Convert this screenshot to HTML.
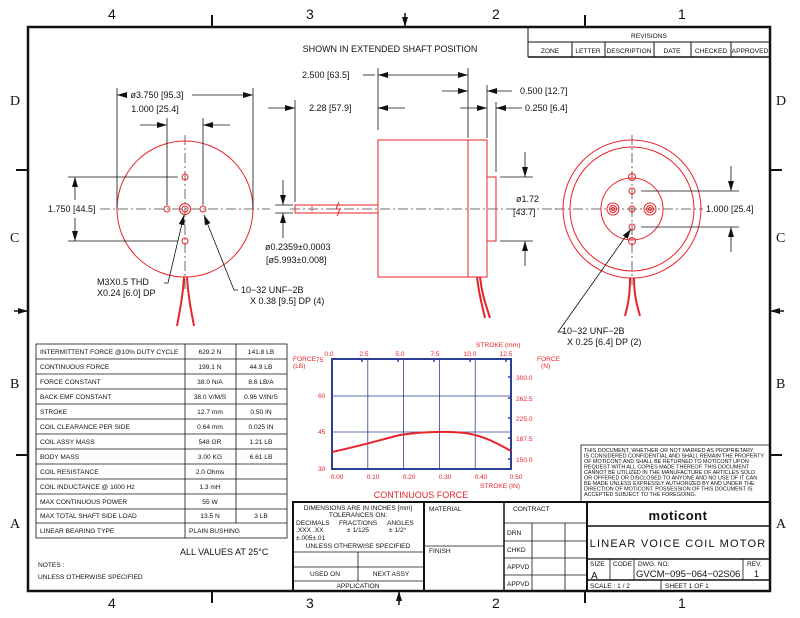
<!DOCTYPE html>
<html><head><meta charset="utf-8"><style>
html,body{margin:0;padding:0;background:#fff}
svg{display:block}
text{font-family:"Liberation Sans",sans-serif;fill:#111}
.s{font-size:6.6px}
.m{font-size:9px}
.r{fill:#e8232a}
</style></head><body>
<svg width="800" height="618" viewBox="0 0 800 618" xmlns="http://www.w3.org/2000/svg">
<defs>
<marker id="a" viewBox="0 0 10 6" refX="10" refY="3" markerWidth="10" markerHeight="6" orient="auto" markerUnits="userSpaceOnUse"><path d="M0,0L10,3L0,6z" fill="#111"/></marker>
</defs>
<!-- frame -->
<rect x="28" y="27" width="742" height="564" fill="none" stroke="#111" stroke-width="2.5"/>
<g stroke="#111" stroke-width="2">
<line x1="212" y1="15" x2="212" y2="27"/><line x1="585" y1="15" x2="585" y2="27"/>
<line x1="212" y1="591" x2="212" y2="603"/><line x1="585" y1="591" x2="585" y2="603"/>
<line x1="16" y1="170" x2="28" y2="170"/><line x1="16" y1="455" x2="28" y2="455"/>
<line x1="770" y1="170" x2="782" y2="170"/><line x1="770" y1="455" x2="782" y2="455"/>
</g>
<line x1="405" y1="13" x2="405" y2="27" stroke="#111" stroke-width="1.5" marker-end="url(#a)"/>
<line x1="399" y1="605" x2="399" y2="591" stroke="#111" stroke-width="1.5" marker-end="url(#a)"/>
<line x1="14" y1="311" x2="28" y2="311" stroke="#111" stroke-width="1.5" marker-end="url(#a)"/>
<line x1="784" y1="311" x2="770" y2="311" stroke="#111" stroke-width="1.5" marker-end="url(#a)"/>
<g>
<text x="108" y="19" style="font-size:14px">4</text><text x="306" y="19" style="font-size:14px">3</text><text x="492" y="19" style="font-size:14px">2</text><text x="678" y="19" style="font-size:14px">1</text>
<text x="108" y="608" style="font-size:14px">4</text><text x="306" y="608" style="font-size:14px">3</text><text x="492" y="608" style="font-size:14px">2</text><text x="678" y="608" style="font-size:14px">1</text>
</g>
<g>
<text x="10" y="105" style="font-family:'Liberation Serif';font-size:14px">D</text><text x="10" y="242" style="font-family:'Liberation Serif';font-size:14px">C</text><text x="10" y="388" style="font-family:'Liberation Serif';font-size:14px">B</text><text x="10" y="528" style="font-family:'Liberation Serif';font-size:14px">A</text>
<text x="776" y="105" style="font-family:'Liberation Serif';font-size:14px">D</text><text x="776" y="242" style="font-family:'Liberation Serif';font-size:14px">C</text><text x="776" y="388" style="font-family:'Liberation Serif';font-size:14px">B</text><text x="776" y="528" style="font-family:'Liberation Serif';font-size:14px">A</text>
</g>
<!-- revisions -->
<g stroke="#111" stroke-width="1" fill="none">
<line x1="528" y1="27" x2="528" y2="57"/><line x1="528" y1="42" x2="770" y2="42"/><line x1="528" y1="57" x2="770" y2="57" stroke-width="1.5"/>
<line x1="572" y1="42" x2="572" y2="57"/><line x1="605" y1="42" x2="605" y2="57"/><line x1="654" y1="42" x2="654" y2="57"/><line x1="691" y1="42" x2="691" y2="57"/><line x1="731" y1="42" x2="731" y2="57"/>
</g>
<g text-anchor="middle">
<text class="s" x="649" y="38" text-anchor="middle">REVISIONS</text><text class="s" x="550" y="53" text-anchor="middle">ZONE</text><text class="s" x="588" y="53" text-anchor="middle">LETTER</text><text class="s" x="629" y="53" text-anchor="middle">DESCRIPTION</text><text class="s" x="672" y="53" text-anchor="middle">DATE</text><text class="s" x="711" y="53" text-anchor="middle">CHECKED</text><text class="s" x="750" y="53" text-anchor="middle">APPROVED</text>
</g>
<text class="m" x="390" y="52" text-anchor="middle">SHOWN IN EXTENDED SHAFT POSITION</text>

<!-- front view left -->
<g stroke="#444" stroke-width="0.8" fill="none" stroke-dasharray="10,3,2,3">
<line x1="100" y1="209" x2="270" y2="209"/><line x1="185" y1="135" x2="185" y2="290"/>
</g>
<g stroke="#e8232a" fill="none" stroke-width="1">
<circle cx="185" cy="209" r="68"/>
<circle cx="185" cy="177" r="3"/><circle cx="185" cy="241" r="3"/><circle cx="167" cy="209" r="3"/><circle cx="203" cy="209" r="3"/>
<circle cx="185" cy="209" r="5.5"/><circle cx="185" cy="209" r="3"/>
<path d="M184,277 C183,295 180,310 177,326" stroke-width="2"/><path d="M187,277 C188,295 191,310 194,326" stroke-width="2"/>
</g>
<g stroke="#111" stroke-width="0.8" fill="none">
<line x1="117" y1="88" x2="117" y2="209"/><line x1="253" y1="88" x2="253" y2="209"/>
<line x1="122" y1="95" x2="117" y2="95" marker-end="url(#a)"/><line x1="192" y1="95" x2="253" y2="95" marker-end="url(#a)"/>
<line x1="167" y1="118" x2="167" y2="205"/><line x1="203" y1="118" x2="203" y2="205"/>
<line x1="140" y1="125" x2="167" y2="125" marker-end="url(#a)"/><line x1="230" y1="125" x2="203" y2="125" marker-end="url(#a)"/>
<line x1="68" y1="177" x2="178" y2="177"/><line x1="68" y1="241" x2="178" y2="241"/>
<line x1="75" y1="200" x2="75" y2="177" marker-end="url(#a)"/><line x1="75" y1="218" x2="75" y2="241" marker-end="url(#a)"/>
<path d="M164,283 L168,283 L184,215" marker-end="url(#a)"/>
<path d="M238,290 L234,290 L204,215" marker-end="url(#a)"/>
</g>
<text class="m" x="157" y="98" text-anchor="middle">ø3.750 [95.3]</text>
<text class="m" x="155" y="112" text-anchor="middle">1.000 [25.4]</text>
<text class="m" x="48" y="212">1.750 [44.5]</text>
<text class="m" x="97" y="285">M3X0.5  THD</text>
<text class="m" x="97" y="296">X0.24 [6.0] DP</text>
<text class="m" x="241" y="293">10−32  UNF−2B</text>
<text class="m" x="250" y="304">X 0.38 [9.5] DP (4)</text>

<!-- side view -->
<line x1="290" y1="209" x2="560" y2="209" stroke="#444" stroke-width="0.8" stroke-dasharray="10,3,2,3"/>
<g stroke="#e8232a" fill="none" stroke-width="1">
<rect x="378" y="140" width="90" height="137"/><rect x="468" y="140" width="19" height="137"/><rect x="487" y="177" width="9" height="64"/>
<rect x="295" y="205" width="83" height="8"/><rect x="295" y="205" width="17" height="8" stroke-dasharray="2,1"/>
<path d="M339,202 L336,209 L340,209 L337,216"/>
<path d="M477,277 C479,295 482,305 485,318" stroke-width="2"/><path d="M480,277 C482,295 486,305 490,318" stroke-width="2"/>
</g>
<g stroke="#111" stroke-width="0.8" fill="none">
<line x1="378" y1="68" x2="378" y2="130"/><line x1="468" y1="68" x2="468" y2="138"/><line x1="487" y1="85" x2="487" y2="138"/><line x1="496" y1="102" x2="496" y2="172"/>
<line x1="295" y1="100" x2="295" y2="202"/>
<line x1="425" y1="75" x2="378" y2="75" marker-end="url(#a)"/><line x1="425" y1="75" x2="468" y2="75" marker-end="url(#a)"/>
<line x1="363" y1="75" x2="375" y2="75"/>
<line x1="442" y1="91" x2="468" y2="91" marker-end="url(#a)"/><line x1="512" y1="91" x2="487" y2="91" marker-end="url(#a)"/>
<line x1="268" y1="108" x2="295" y2="108" marker-end="url(#a)"/><line x1="405" y1="108" x2="378" y2="108" marker-end="url(#a)"/>
<line x1="460" y1="108" x2="487" y2="108" marker-end="url(#a)"/><line x1="522" y1="108" x2="496" y2="108" marker-end="url(#a)"/>
<line x1="500" y1="177" x2="533" y2="177"/><line x1="500" y1="241" x2="533" y2="241"/>
<line x1="525" y1="152" x2="525" y2="177" marker-end="url(#a)"/><line x1="525" y1="266" x2="525" y2="241" marker-end="url(#a)"/>
<line x1="275" y1="205" x2="293" y2="205"/><line x1="275" y1="213" x2="293" y2="213"/>
<line x1="283" y1="180" x2="283" y2="205" marker-end="url(#a)"/><line x1="283" y1="238" x2="283" y2="213" marker-end="url(#a)"/>
</g>
<text class="m" x="302" y="78">2.500 [63.5]</text>
<text class="m" x="520" y="94">0.500 [12.7]</text>
<text class="m" x="309" y="111">2.28 [57.9]</text>
<text class="m" x="525" y="111">0.250 [6.4]</text>
<text class="m" x="516" y="202">ø1.72</text>
<text class="m" x="513" y="215">[43.7]</text>
<text class="m" x="265" y="250">ø0.2359±0.0003</text>
<text class="m" x="266" y="263">[ø5.993±0.008]</text>

<!-- right view -->
<g stroke="#444" stroke-width="0.8" fill="none" stroke-dasharray="10,3,2,3">
<line x1="555" y1="209" x2="705" y2="209"/><line x1="632" y1="135" x2="632" y2="285"/>
</g>
<g stroke="#e8232a" fill="none" stroke-width="1">
<circle cx="632" cy="209" r="69"/><circle cx="632" cy="209" r="62"/><circle cx="632" cy="209" r="31"/>
<circle cx="632" cy="177" r="3.5"/><circle cx="632" cy="241" r="3.5"/>
<circle cx="632" cy="191" r="3"/><circle cx="632" cy="227" r="3"/>
<circle cx="613" cy="209" r="6"/><circle cx="613" cy="209" r="3.5"/><circle cx="613" cy="209" r="1.5"/>
<circle cx="650" cy="209" r="6"/><circle cx="650" cy="209" r="3.5"/><circle cx="650" cy="209" r="1.5"/>
<circle cx="632" cy="209" r="3"/>
<path d="M630,278 C630,295 628,305 625,316" stroke-width="2"/><path d="M634,278 C634,295 637,305 640,316" stroke-width="2"/>
</g>
<g stroke="#111" stroke-width="0.8" fill="none">
<line x1="641" y1="191" x2="739" y2="191"/><line x1="641" y1="227" x2="739" y2="227"/>
<line x1="731" y1="166" x2="731" y2="191" marker-end="url(#a)"/><line x1="731" y1="252" x2="731" y2="227" marker-end="url(#a)"/>
<path d="M564,332 L558,332 L631,229" marker-end="url(#a)"/>
</g>
<rect x="703" y="203" width="50" height="12" fill="#fff"/>
<text class="m" x="706" y="212">1.000 [25.4]</text>
<text class="m" x="562" y="334">10−32  UNF−2B</text>
<text class="m" x="567" y="345">X 0.25 [6.4] DP (2)</text>

<!-- spec table -->
<g stroke="#111" stroke-width="0.8" fill="none">
<rect x="36" y="344" width="251" height="194"/>
<line x1="185" y1="344" x2="185" y2="538"/><line x1="236" y1="344" x2="236" y2="523"/>
<line x1="36" y1="359" x2="287" y2="359"/><line x1="36" y1="374" x2="287" y2="374"/><line x1="36" y1="389" x2="287" y2="389"/><line x1="36" y1="404" x2="287" y2="404"/><line x1="36" y1="419" x2="287" y2="419"/><line x1="36" y1="434" x2="287" y2="434"/><line x1="36" y1="449" x2="287" y2="449"/><line x1="36" y1="464" x2="287" y2="464"/><line x1="36" y1="479" x2="287" y2="479"/><line x1="36" y1="494" x2="287" y2="494"/><line x1="36" y1="509" x2="287" y2="509"/><line x1="36" y1="523" x2="287" y2="523"/>
</g>
<g>
<text class="s" x="40" y="354">INTERMITTENT FORCE @10% DUTY CYCLE</text>
<text class="s" x="40" y="369">CONTINUOUS FORCE</text>
<text class="s" x="40" y="384">FORCE CONSTANT</text>
<text class="s" x="40" y="399">BACK EMF CONSTANT</text>
<text class="s" x="40" y="414">STROKE</text>
<text class="s" x="40" y="429">COIL CLEARANCE PER SIDE</text>
<text class="s" x="40" y="444">COIL ASSY MASS</text>
<text class="s" x="40" y="459">BODY MASS</text>
<text class="s" x="40" y="474">COIL RESISTANCE</text>
<text class="s" x="40" y="489">COIL INDUCTANCE @ 1000 Hz</text>
<text class="s" x="40" y="504">MAX CONTINUOUS POWER</text>
<text class="s" x="40" y="518">MAX TOTAL SHAFT SIDE LOAD</text>
<text class="s" x="40" y="533">LINEAR BEARING TYPE</text>
</g>
<g text-anchor="middle">
<text class="s" x="210" y="354">629.2 N</text><text class="s" x="261" y="354">141.8 LB</text>
<text class="s" x="210" y="369">199.1 N</text><text class="s" x="261" y="369">44.9 LB</text>
<text class="s" x="210" y="384">38.0 N/A</text><text class="s" x="261" y="384">8.6 LB/A</text>
<text class="s" x="210" y="399">38.0 V/M/S</text><text class="s" x="261" y="399">0.96 V/IN/S</text>
<text class="s" x="210" y="414">12.7 mm</text><text class="s" x="261" y="414">0.50 IN</text>
<text class="s" x="210" y="429">0.64 mm</text><text class="s" x="261" y="429">0.025 IN</text>
<text class="s" x="210" y="444">548 GR</text><text class="s" x="261" y="444">1.21 LB</text>
<text class="s" x="210" y="459">3.00 KG</text><text class="s" x="261" y="459">6.61 LB</text>
<text class="s" x="210" y="474">2.0 Ohms</text>
<text class="s" x="210" y="489">1.3 mH</text>
<text class="s" x="210" y="504">55 W</text>
<text class="s" x="210" y="518">13.5 N</text><text class="s" x="261" y="518">3 LB</text>
</g>
<text class="s" x="189" y="533">PLAIN BUSHING</text>
<text class="m" x="180" y="555">ALL VALUES AT 25°C</text>
<text class="s" x="38" y="567">NOTES :</text>
<text class="s" x="38" y="579">UNLESS OTHERWISE SPECIFIED</text>

<!-- chart -->
<g stroke="#2c3f95" stroke-width="0.8" fill="none">
<line x1="367.8" y1="359" x2="367.8" y2="469"/><line x1="403.6" y1="359" x2="403.6" y2="469"/><line x1="439.4" y1="359" x2="439.4" y2="469"/><line x1="475.2" y1="359" x2="475.2" y2="469"/>
<line x1="332" y1="396" x2="511" y2="396"/><line x1="332" y1="432" x2="511" y2="432"/>
<rect x="332" y="359" width="179" height="110" stroke-width="2"/>
<g stroke-width="1.5"><line x1="362" y1="359" x2="362" y2="362"/><line x1="398" y1="359" x2="398" y2="362"/><line x1="434" y1="359" x2="434" y2="362"/><line x1="470" y1="359" x2="470" y2="362"/><line x1="506" y1="359" x2="506" y2="362"/>
<line x1="511" y1="377" x2="508" y2="377"/><line x1="511" y1="398" x2="508" y2="398"/><line x1="511" y1="418" x2="508" y2="418"/><line x1="511" y1="438" x2="508" y2="438"/><line x1="511" y1="459" x2="508" y2="459"/></g>
</g>
<path d="M332,452 C360,446 380,440 400,435 C420,432 440,431 460,432.5 C480,434 495,442 511,451" stroke="#e8232a" stroke-width="2" fill="none"/>
<g>
<text class="s r" x="329" y="356" text-anchor="middle">0.0</text><text class="s r" x="364" y="356" text-anchor="middle">2.5</text><text class="s r" x="400" y="356" text-anchor="middle">5.0</text><text class="s r" x="435" y="356" text-anchor="middle">7.5</text><text class="s r" x="470" y="356" text-anchor="middle">10.0</text><text class="s r" x="506" y="356" text-anchor="middle">12.5</text>
<text class="s r" x="476" y="347">STROKE (mm)</text>
<text class="s r" x="293" y="361">FORCE</text><text class="s r" x="293" y="368">(LB)</text>
<text class="s r" x="316" y="362">75</text><text class="s r" x="318" y="398">60</text><text class="s r" x="318" y="434">45</text><text class="s r" x="318" y="471">30</text>
<text class="s r" x="537" y="361">FORCE</text><text class="s r" x="541" y="368">(N)</text>
<text class="s r" x="516" y="380">300.0</text><text class="s r" x="516" y="401">262.5</text><text class="s r" x="516" y="421">225.0</text><text class="s r" x="516" y="441">187.5</text><text class="s r" x="516" y="462">150.0</text>
<text class="s r" x="337" y="479" text-anchor="middle">0.00</text><text class="s r" x="373" y="479" text-anchor="middle">0.10</text><text class="s r" x="409" y="479" text-anchor="middle">0.20</text><text class="s r" x="445" y="479" text-anchor="middle">0.30</text><text class="s r" x="481" y="479" text-anchor="middle">0.40</text><text class="s r" x="516" y="479" text-anchor="middle">0.50</text>
<text class="s r" x="480" y="488">STROKE (IN)</text>
</g>
<text class="m r" x="421" y="498" text-anchor="middle">CONTINUOUS FORCE</text>

<!-- disclaimer -->
<rect x="581" y="445" width="189" height="57" fill="none" stroke="#111" stroke-width="0.8"/>
<g>
<text x="584" y="452" style="font-size:5.4px">THIS DOCUMENT, WHETHER OR NOT MARKED AS PROPRIETARY,</text>
<text x="584" y="457.5" style="font-size:5.4px">IS CONSIDERED CONFIDENTIAL AND SHALL REMAIN THE PROPERTY</text>
<text x="584" y="463" style="font-size:5.4px">OF MOTICONT AND SHALL BE RETURNED TO MOTICONT UPON</text>
<text x="584" y="468.5" style="font-size:5.4px">REQUEST WITH ALL COPIES MADE THEREOF. THIS DOCUMENT</text>
<text x="584" y="474" style="font-size:5.4px">CANNOT BE UTILIZED IN THE MANUFACTURE OF ARTICLES SOLD</text>
<text x="584" y="479.5" style="font-size:5.4px">OR OFFERED OR DISCLOSED TO ANYONE AND NO USE OF IT CAN</text>
<text x="584" y="485" style="font-size:5.4px">BE MADE UNLESS EXPRESSLY AUTHORIZED BY AND UNDER THE</text>
<text x="584" y="490.5" style="font-size:5.4px">DIRECTION OF MOTICONT. POSSESSION OF THIS DOCUMENT IS</text>
<text x="584" y="496" style="font-size:5.4px">ACCEPTED SUBJECT TO THE FOREGOING.</text>
</g>

<!-- title block -->
<g stroke="#111" fill="none">
<rect x="293" y="502" width="477" height="89" stroke-width="2"/>
<line x1="424" y1="502" x2="424" y2="591" stroke-width="2"/><line x1="504" y1="502" x2="504" y2="591" stroke-width="1.5"/><line x1="587" y1="502" x2="587" y2="591" stroke-width="2"/>
<g stroke-width="0.8">
<line x1="293" y1="552" x2="424" y2="552"/><line x1="293" y1="567" x2="424" y2="567"/><line x1="293" y1="581" x2="424" y2="581"/><line x1="358" y1="552" x2="358" y2="581"/>
<line x1="424" y1="546" x2="504" y2="546"/>
<line x1="504" y1="523" x2="587" y2="523"/><line x1="504" y1="541" x2="587" y2="541"/><line x1="504" y1="558" x2="587" y2="558"/><line x1="504" y1="575" x2="587" y2="575"/>
<line x1="532" y1="523" x2="532" y2="591"/><line x1="565" y1="523" x2="565" y2="591"/>
</g>
<line x1="587" y1="526" x2="770" y2="526" stroke-width="1.5"/><line x1="587" y1="559" x2="770" y2="559" stroke-width="1.5"/><line x1="587" y1="580" x2="770" y2="580" stroke-width="1.5"/>
<g stroke-width="0.8"><line x1="610" y1="559" x2="610" y2="580"/><line x1="634" y1="559" x2="634" y2="580"/><line x1="743" y1="559" x2="743" y2="580"/><line x1="661" y1="580" x2="661" y2="591"/></g>
</g>
<text class="s" x="358" y="510" text-anchor="middle">DIMENSIONS ARE IN INCHES [mm]</text>
<text class="s" x="358" y="517" text-anchor="middle">TOLERANCES ON:</text>
<text class="s" x="296" y="525">DECIMALS</text><text class="s" x="339" y="525">FRACTIONS</text><text class="s" x="387" y="525">ANGLES</text>
<text class="s" x="296" y="532">.XXX   .XX</text><text class="s" x="347" y="532">±   1/125</text><text class="s" x="389" y="532">± 1/2°</text>
<text class="s" x="296" y="540">±.005±.01</text>
<text class="s" x="358" y="548" text-anchor="middle">UNLESS OTHERWISE SPECIFIED</text>
<text class="s" x="325" y="576" text-anchor="middle">USED ON</text><text class="s" x="391" y="576" text-anchor="middle">NEXT ASSY</text>
<text class="s" x="358" y="588" text-anchor="middle">APPLICATION</text>
<text class="s" x="429" y="511">MATERIAL</text><text class="s" x="429" y="553">FINISH</text>
<text class="s" x="513" y="511">CONTRACT</text>
<text class="s" x="507" y="535">DRN</text><text class="s" x="507" y="552">CHKD</text><text class="s" x="507" y="569">APPVD</text><text class="s" x="507" y="586">APPVD</text>
<text x="678" y="520" text-anchor="middle" style="font-size:13px;font-weight:bold;letter-spacing:0.5px">moticont</text>
<text x="678" y="547" text-anchor="middle" style="font-size:11px;letter-spacing:1.2px">LINEAR VOICE COIL MOTOR</text>
<text class="s" x="590" y="566">SIZE</text><text x="591" y="579" style="font-size:10px">A</text>
<text class="s" x="613" y="566">CODE</text>
<text class="s" x="638" y="566">DWG. NO.</text>
<text x="636" y="577" style="font-size:9.5px">GVCM−095−064−02S06</text>
<text class="s" x="747" y="566">REV.</text><text class="m" x="754" y="577">1</text>
<text class="s" x="590" y="588">SCALE :   1   /  2</text>
<text class="s" x="665" y="588">SHEET    1    OF     1</text>
</svg>
</body></html>
